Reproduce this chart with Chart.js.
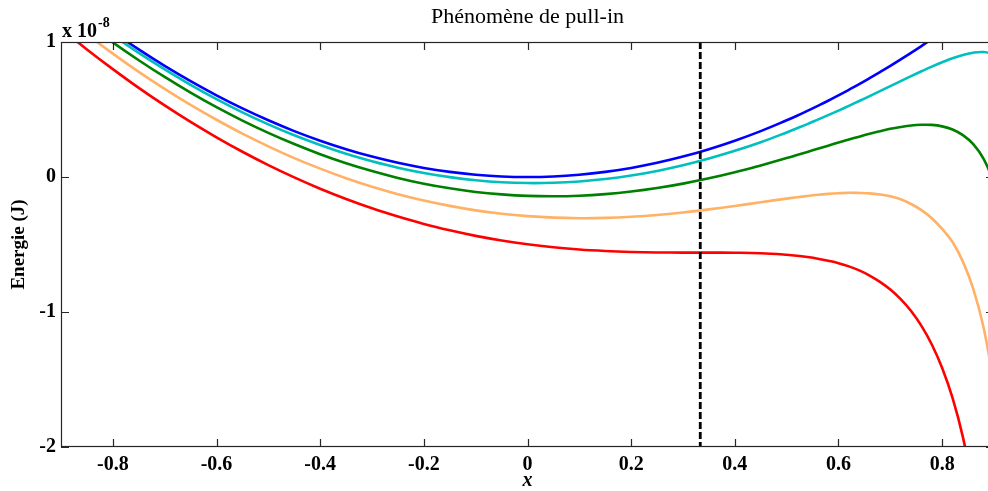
<!DOCTYPE html>
<html><head><meta charset="utf-8">
<script src="https://cdn.jsdelivr.net/npm/chart.js@4.4.1/dist/chart.umd.min.js"></script>
<style>
html,body{margin:0;padding:0;background:#fff;overflow:hidden;width:988px;height:491px}
#wrap{position:relative;width:994px;height:491px}
</style></head>
<body><div id="wrap"><canvas id="c"></canvas></div>
<script>
const xs = [-0.9,-0.85,-0.8,-0.75,-0.7,-0.65,-0.6,-0.55,-0.5,-0.45,-0.4,-0.35,-0.3,-0.25,-0.2,-0.15,-0.1,-0.05,0,0.05,0.1,0.15,0.2,0.25,0.3,0.35,0.4,0.45,0.5,0.52,0.54,0.56,0.58,0.6,0.62,0.64,0.66,0.68,0.7,0.72,0.74,0.76,0.78,0.8,0.82,0.84,0.86,0.88,0.9];
const energyBlue = [1.361,1.214,1.075,0.945,0.823,0.710,0.605,0.508,0.420,0.340,0.269,0.206,0.151,0.105,0.067,0.038,0.017,0.004,0,0.004,0.017,0.038,0.067,0.105,0.151,0.206,0.269,0.340,0.420,0.454,0.490,0.527,0.565,0.605,0.646,0.688,0.732,0.777,0.823,0.871,0.920,0.970,1.022,1.075,1.130,1.185,1.243,1.301,1.361];
const energyCyan = [1.337,1.190,1.050,0.919,0.797,0.683,0.577,0.479,0.390,0.309,0.237,0.172,0.117,0.069,0.030,-0.001,-0.024,-0.039,-0.045,-0.043,-0.033,-0.015,0.011,0.045,0.087,0.137,0.194,0.258,0.330,0.361,0.392,0.425,0.458,0.492,0.527,0.563,0.599,0.636,0.673,0.710,0.747,0.783,0.818,0.850,0.880,0.904,0.921,0.926,0.911];
const energyGreen = [1.287,1.138,0.997,0.865,0.741,0.625,0.517,0.418,0.327,0.244,0.169,0.102,0.044,-0.007,-0.050,-0.084,-0.111,-0.129,-0.140,-0.143,-0.139,-0.127,-0.108,-0.082,-0.049,-0.010,0.035,0.086,0.140,0.163,0.186,0.209,0.232,0.255,0.277,0.299,0.320,0.339,0.357,0.371,0.382,0.387,0.386,0.375,0.352,0.310,0.243,0.134,-0.039];
const energyOrange = [1.208,1.057,0.914,0.779,0.653,0.534,0.424,0.321,0.227,0.140,0.062,-0.009,-0.072,-0.127,-0.174,-0.214,-0.247,-0.272,-0.290,-0.301,-0.305,-0.303,-0.295,-0.282,-0.263,-0.240,-0.215,-0.187,-0.160,-0.150,-0.141,-0.132,-0.125,-0.120,-0.117,-0.118,-0.121,-0.130,-0.143,-0.165,-0.200,-0.245,-0.305,-0.385,-0.482,-0.627,-0.829,-1.116,-1.539];
const energyRed = [1.099,0.945,0.799,0.660,0.530,0.408,0.294,0.187,0.088,-0.003,-0.087,-0.163,-0.232,-0.293,-0.348,-0.395,-0.436,-0.470,-0.498,-0.520,-0.537,-0.548,-0.555,-0.559,-0.560,-0.560,-0.561,-0.565,-0.576,-0.583,-0.593,-0.605,-0.620,-0.638,-0.662,-0.692,-0.730,-0.777,-0.834,-0.905,-0.993,-1.103,-1.241,-1.415,-1.637,-1.927,-2.315,-2.849,-3.619];
const pullInX = [0.3333, 0.3333];
const pullInY = [1, -2];
const xTicks = [-0.8,-0.6,-0.4,-0.2,0,0.2,0.4,0.6,0.8];
const yTicks = [1,0,-1,-2];
const titleText = 'Phénomène de pull-in';
const xLabel = 'x';
const yLabel = 'Energie (J)';
const exponentBase = 'x 10';
const exponentPow = '-8';

const SERIF = '"Liberation Serif", "Times New Roman", serif';
const pts = arr => xs.map((x,i)=>({x, y: arr[i]}));
const line = (arr, color) => ({data: pts(arr), borderColor: color, borderWidth: 2.6, pointRadius: 0, fill: false, tension: 0.4});

const frame = {
  id: 'frame',
  afterDatasetsDraw(chart){
    const {ctx, chartArea: a, scales: {x, y}} = chart;
    ctx.save();
    ctx.strokeStyle = '#262626';
    ctx.lineWidth = 1.2;
    ctx.strokeRect(a.left + 0.5, a.top + 0.5, a.right - a.left - 1, a.bottom - a.top - 1);
    ctx.beginPath();
    const L = 8;
    xTicks.forEach(v => {
      const px = Math.round(x.getPixelForValue(v)) + 0.5;
      ctx.moveTo(px, a.bottom); ctx.lineTo(px, a.bottom - L);
      ctx.moveTo(px, a.top); ctx.lineTo(px, a.top + L);
    });
    yTicks.forEach(v => {
      const py = Math.round(y.getPixelForValue(v)) + 0.5;
      ctx.moveTo(a.left, py); ctx.lineTo(a.left + L, py);
      ctx.moveTo(a.right, py); ctx.lineTo(a.right - L, py);
    });
    ctx.stroke();
    ctx.fillStyle = '#000';
    ctx.textBaseline = 'alphabetic';
    ctx.textAlign = 'left';
    ctx.font = 'bold 20px ' + SERIF;
    ctx.fillText(exponentBase, a.left + 1, 37);
    const w = ctx.measureText(exponentBase).width;
    ctx.font = 'bold 14px ' + SERIF;
    ctx.fillText(exponentPow, a.left + 2 + w, 27);
    ctx.restore();
  }
};

new Chart(document.getElementById('c'), {
  type: 'line',
  data: {
    datasets: [
      {data: pullInX.map((x,i)=>({x, y: pullInY[i]})), borderColor: '#000', borderWidth: 2.8, borderDash: [7,3], pointRadius: 0, fill: false},
      line(energyBlue, '#0000ff'),
      line(energyCyan, '#00bfbf'),
      line(energyGreen, '#008000'),
      line(energyOrange, '#ffb266'),
      line(energyRed, '#ff0000')
    ]
  },
  options: {
    animation: false,
    responsive: true,
    maintainAspectRatio: false,
    layout: {padding: 0},
    plugins: {
      legend: {display: false},
      tooltip: {enabled: false},
      title: {display: true, fullSize: false, text: titleText, color: '#000', font: {family: SERIF, size: 22, weight: 'normal'}, padding: {top: 4, bottom: 11.6}}
    },
    scales: {
      x: {
        type: 'linear', min: -0.9, max: 0.9,
        grid: {display: false, drawTicks: false},
        border: {display: false},
        afterBuildTicks: s => { s.ticks = xTicks.map(v => ({value: v})); },
        afterFit: s => { s.height = 44; },
        ticks: {color: '#000', padding: 6, maxRotation: 0, font: {family: SERIF, size: 20, weight: 'bold'},
          callback: v => v === 0 ? '0' : Number(v).toFixed(1)},
        title: {display: true, text: xLabel, color: '#000', padding: {top: 0, bottom: 0},
          font: {family: SERIF, size: 20, weight: 'bold', style: 'italic', lineHeight: 1.0}}
      },
      y: {
        type: 'linear', min: -2, max: 1,
        grid: {display: false, drawTicks: false},
        border: {display: false},
        afterBuildTicks: s => { s.ticks = yTicks.map(v => ({value: v})); },
        afterFit: s => { s.width = 61; },
        ticks: {color: '#000', padding: 5, font: {family: SERIF, size: 20, weight: 'bold'},
          callback: v => String(v)},
        title: {display: true, text: yLabel, color: '#000', padding: {top: 8, bottom: 0},
          font: {family: SERIF, size: 19, weight: 'bold'}}
      }
    }
  },
  plugins: [frame]
});
</script>
</body></html>
